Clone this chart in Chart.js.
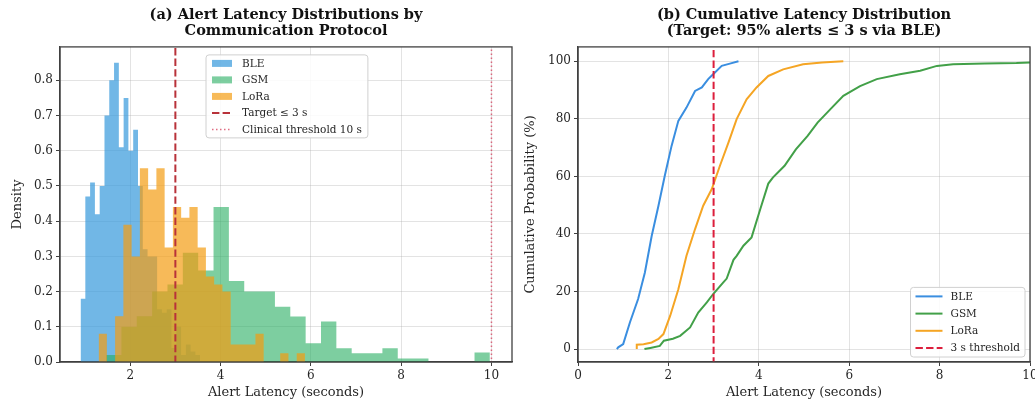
<!DOCTYPE html>
<html>
<head>
<meta charset="utf-8">
<script src="https://cdn.jsdelivr.net/npm/chart.js@4.4.1/dist/chart.umd.min.js"></script>
<style>
  html, body { margin: 0; padding: 0; background: #fff; overflow: hidden; }
  canvas { position: absolute; top: 0; }
  #left { left: 0; }
  #right { left: 520px; }
</style>
</head>
<body>
<canvas id="left" width="520" height="408"></canvas>
<canvas id="right" width="525" height="408"></canvas>
<script>
// ---- histogram (a): 25 bins per protocol, first edge + bin width + density ----
const bleStart = 0.90, bleWidth = 0.106;
const bleDensity = [0.18, 0.47, 0.51, 0.42, 0.50, 0.70, 0.80, 0.85, 0.61, 0.75, 0.60, 0.66,
                    0.50, 0.32, 0.30, 0.30, 0.15, 0.14, 0.15, 0.04, 0.10, 0.02, 0.05, 0.03, 0.02];
const gsmStart = 1.465, gsmWidth = 0.34;
const gsmDensity = [0.02, 0.10, 0.13, 0.20, 0.22, 0.31, 0.26, 0.44, 0.23, 0.20, 0.20, 0.157,
                    0.129, 0.053, 0.115, 0.039, 0.025, 0.025, 0.039, 0.01, 0.01, 0, 0, 0, 0.027];
const loraStart = 1.30, loraWidth = 0.1828;
const loraDensity = [0.08, 0, 0.13, 0.39, 0.30, 0.55, 0.49, 0.55, 0.325, 0.44, 0.41, 0.44,
                     0.325, 0.243, 0.22, 0.20, 0.05, 0.05, 0.05, 0.08, 0, 0, 0.025, 0, 0.025];

const targetLatency = 3;
const clinicalLatency = 10;

const xTicksLeft = [2, 4, 6, 8, 10];
const yTicksLeft = [0, 0.1, 0.2, 0.3, 0.4, 0.5, 0.6, 0.7, 0.8];

// ---- CDF (b): latency (s) and cumulative percent ----
const bleCdfX = [0.86, 0.89, 1.0, 1.15, 1.33, 1.48, 1.63, 1.78, 1.92, 2.07, 2.22, 2.40, 2.59, 2.74, 2.88, 2.99, 3.18, 3.36, 3.55];
const bleCdfY = [0, 0.6, 1.7, 9.3, 17.4, 26.6, 39.3, 49.8, 60.2, 70.6, 79.3, 83.9, 89.7, 90.9, 93.8, 95.5, 98.4, 99.2, 100];
const gsmCdfX = [1.47, 1.60, 1.81, 1.90, 2.10, 2.26, 2.48, 2.66, 2.85, 3.0, 3.21, 3.29, 3.44, 3.51, 3.66, 3.84, 4.03, 4.21, 4.31,
                 4.57, 4.82, 5.08, 5.30, 5.58, 5.87, 6.24, 6.61, 7.12, 7.57, 7.94, 8.30, 9.0, 9.7, 10.0];
const gsmCdfY = [0, 0.4, 1.1, 2.9, 3.6, 4.6, 7.5, 12.7, 16.2, 19.3, 23.1, 24.5, 31.0, 32.4, 35.9, 38.8, 48.5, 57.5, 59.6,
                 63.7, 69.4, 74.1, 78.7, 83.3, 88.0, 91.4, 93.8, 95.5, 96.7, 98.4, 99.0, 99.2, 99.4, 99.6];
const loraCdfX = [1.30, 1.30, 1.45, 1.63, 1.78, 1.89, 2.04, 2.22, 2.40, 2.59, 2.77, 2.96, 3.14, 3.33, 3.51, 3.73, 3.95, 4.21,
                  4.54, 4.98, 5.40, 5.87];
const loraCdfY = [0, 1.5, 1.7, 2.3, 3.5, 5.2, 11.6, 20.8, 32.4, 41.7, 49.8, 55.6, 63.7, 71.8, 79.9, 86.8, 90.9, 94.9,
                  97.2, 99.0, 99.6, 100];

const xTicksRight = [0, 2, 4, 6, 8, 10];
const yTicksRight = [0, 20, 40, 60, 80, 100];

const serif = "'DejaVu Serif', 'Liberation Serif', serif";
const textColor = '#262626';
const spineColor = '#404040';
const gridColor = 'rgba(176,176,176,0.35)';

const bleColor = 'rgba(52,152,219,0.7)';
const gsmColor = 'rgba(39,174,96,0.6)';
const loraColor = 'rgba(243,156,18,0.7)';

function histPoints(start, width, dens) {
    const pts = [{x: start, y: 0}];
    dens.forEach((d, i) => {
        pts.push({x: start + i * width, y: d});
        pts.push({x: start + (i + 1) * width, y: d});
    });
    pts.push({x: start + dens.length * width, y: 0});
    return pts;
}

function zip(xs, ys) {
    return xs.map((x, i) => ({x: x, y: ys[i]}));
}

function histSet(label, start, width, dens, color, order) {
    return {
        label: label, data: histPoints(start, width, dens), legendKind: 'patch',
        backgroundColor: color, borderWidth: 0, fill: 'origin', pointRadius: 0, order: order
    };
}

function vline(label, x, color, width, dash) {
    return {
        label: label, data: [{x: x, y: -1000}, {x: x, y: 1000}], legendKind: 'line',
        borderColor: color, borderWidth: width, borderDash: dash, pointRadius: 0, fill: false, order: 0
    };
}

function cdfSet(label, xs, ys, color) {
    return {
        label: label, data: zip(xs, ys), legendKind: 'line',
        borderColor: color, borderWidth: 2, pointRadius: 0, fill: false, order: 1
    };
}

// frame round the plot area (matplotlib spines)
const framePlugin = {
    id: 'frame',
    afterDatasetsDraw(chart) {
        const a = chart.chartArea;
        const ctx = chart.ctx;
        ctx.save();
        ctx.strokeStyle = spineColor;
        ctx.lineWidth = 1.3;
        ctx.strokeRect(a.left, a.top, a.right - a.left, a.bottom - a.top);
        ctx.restore();
    }
};

// legend in a box inside the plot area
const boxLegend = {
    id: 'boxLegend',
    afterDraw(chart, args, opts) {
        const a = chart.chartArea;
        const ctx = chart.ctx;
        const items = chart.data.datasets.filter(d => d.legendKind);
        ctx.save();
        ctx.font = opts.fontSize + 'px ' + serif;
        const textW = Math.max(...items.map(d => ctx.measureText(d.label).width));
        const w = opts.pad + opts.handle + opts.gap + textW + opts.pad;
        const h = (items.length - 1) * opts.row + 2 * opts.edge;
        const x = opts.right != null ? a.right - opts.right - w : a.left + opts.left;
        const y = opts.bottom != null ? a.bottom - opts.bottom - h : a.top + opts.top;

        ctx.fillStyle = 'rgba(255,255,255,0.85)';
        ctx.strokeStyle = '#d0d0d0';
        ctx.lineWidth = 1;
        ctx.beginPath();
        ctx.roundRect(x, y, w, h, 3);
        ctx.fill();
        ctx.stroke();

        items.forEach((d, i) => {
            const cy = y + opts.edge + i * opts.row;
            const hx = x + opts.pad;
            if (d.legendKind === 'patch') {
                ctx.fillStyle = d.backgroundColor;
                ctx.fillRect(hx, cy - 3.5, opts.handle, 7);
            } else {
                ctx.strokeStyle = d.borderColor;
                ctx.lineWidth = d.borderWidth;
                ctx.setLineDash(d.borderDash || []);
                ctx.beginPath();
                ctx.moveTo(hx, cy);
                ctx.lineTo(hx + opts.handle, cy);
                ctx.stroke();
                ctx.setLineDash([]);
            }
            ctx.fillStyle = textColor;
            ctx.textBaseline = 'middle';
            ctx.textAlign = 'left';
            ctx.fillText(d.label, hx + opts.handle + opts.gap, cy + 0.5);
        });
        ctx.restore();
    }
};

function axis(min, max, ticks, fmt, title, size, titlePad) {
    const horizontal = size.height != null;
    return {
        type: 'linear', min: min, max: max,
        afterBuildTicks: s => { s.ticks = ticks.map(v => ({value: v})); },
        afterFit: s => {
            if (horizontal) s.height = size.height; else s.width = size.width;
        },
        grid: { color: gridColor, lineWidth: 1, tickColor: spineColor, tickLength: 4, tickWidth: 1 },
        border: { display: true, color: spineColor, width: 1.3 },
        ticks: {
            autoSkip: false, maxRotation: 0, padding: 3, color: textColor,
            font: { family: serif, size: 12 },
            callback: v => fmt(v)
        },
        title: { display: true, text: title, color: textColor, font: { family: serif, size: 13 }, padding: titlePad }
    };
}

function titleOpts(lines) {
    return {
        display: true, text: lines, fullSize: false, color: '#111',
        font: { family: serif, size: 14.5, weight: 'bold', lineHeight: 1.1 },
        padding: { top: 7, bottom: 8 }
    };
}

// ---- (a) histograms ----
new Chart(document.getElementById('left'), {
    type: 'line',
    data: {
        datasets: [
            histSet('BLE', bleStart, bleWidth, bleDensity, bleColor, 4),
            histSet('GSM', gsmStart, gsmWidth, gsmDensity, gsmColor, 3),
            histSet('LoRa', loraStart, loraWidth, loraDensity, loraColor, 2),
            vline('Target \u2264 3 s', targetLatency, '#b8323a', 2, [7.4, 3.2]),
            vline('Clinical threshold 10 s', clinicalLatency, 'rgba(214,60,90,0.75)', 1.5, [1.5, 2.5])
        ]
    },
    options: {
        responsive: false, animation: false,
        layout: { padding: { left: 0, right: 8, top: 0, bottom: 0 } },
        scales: {
            x: axis(0.445, 10.455, xTicksLeft, v => String(v), 'Alert Latency (seconds)', {height: 46}, {top: 2, bottom: 8}),
            y: axis(0, 0.895, yTicksLeft, v => v.toFixed(1), 'Density', {width: 60}, {top: 10, bottom: 0})
        },
        plugins: {
            legend: { display: false },
            tooltip: { enabled: false },
            title: titleOpts(['(a) Alert Latency Distributions by', 'Communication Protocol']),
            boxLegend: { left: 146, top: 8, pad: 6, handle: 20, gap: 10, row: 16.5, edge: 8.5, fontSize: 10.5 }
        }
    },
    plugins: [framePlugin, boxLegend]
});

// ---- (b) cumulative distributions ----
new Chart(document.getElementById('right'), {
    type: 'line',
    data: {
        datasets: [
            cdfSet('BLE', bleCdfX, bleCdfY, '#3a8ee0'),
            cdfSet('GSM', gsmCdfX, gsmCdfY, '#42a048'),
            cdfSet('LoRa', loraCdfX, loraCdfY, '#f5a524'),
            vline('3 s threshold', targetLatency, '#dc1e3c', 2, [7.4, 3.2])
        ]
    },
    options: {
        responsive: false, animation: false,
        layout: { padding: { left: 0, right: 15, top: 0, bottom: 0 } },
        scales: {
            x: axis(0, 10, xTicksRight, v => String(v), 'Alert Latency (seconds)', {height: 46}, {top: 2, bottom: 8}),
            y: axis(-4.5, 105, yTicksRight, v => String(v), 'Cumulative Probability (%)', {width: 58}, {top: 3, bottom: 0})
        },
        plugins: {
            legend: { display: false },
            tooltip: { enabled: false },
            title: titleOpts(['(b) Cumulative Latency Distribution', '(Target: 95% alerts \u2264 3 s via BLE)']),
            boxLegend: { right: 5, bottom: 5, pad: 5, handle: 27, gap: 8, row: 17.2, edge: 9, fontSize: 10.5 }
        }
    },
    plugins: [framePlugin, boxLegend]
});
</script>
</body>
</html>
